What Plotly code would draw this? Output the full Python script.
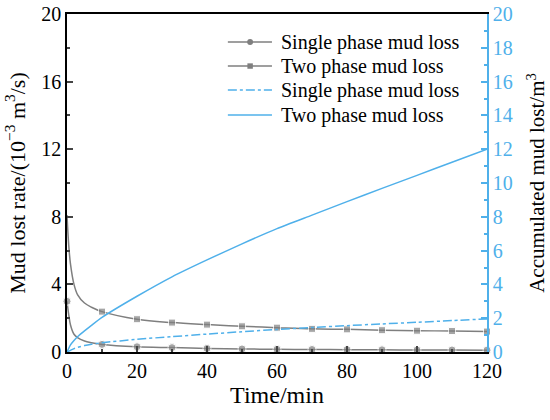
import plotly.graph_objects as go

# time axes (min)
t_rate = [0, 0.5, 1, 2, 3, 5, 7, 10, 20, 30, 40, 50, 60, 70, 80, 90, 100, 110, 120]
t_acc = [0, 1, 2, 3, 5, 7, 10, 20, 30, 40, 50, 60, 70, 80, 90, 100, 110, 120]

# mud lost rate (10^-3 m3/s)
single_rate = [3.0, 2.2, 1.6, 1.05, 0.85, 0.65, 0.55, 0.45, 0.31, 0.26, 0.21, 0.18,
               0.16, 0.15, 0.14, 0.13, 0.12, 0.12, 0.11]
two_rate = [8.1, 6.3, 5.2, 4.0, 3.4, 2.9, 2.65, 2.39, 1.94, 1.74, 1.62, 1.52,
            1.44, 1.37, 1.34, 1.29, 1.26, 1.24, 1.21]

# accumulated mud lost (m3)
single_acc = [0, 0.1, 0.2, 0.27, 0.38, 0.46, 0.55, 0.75, 0.91, 1.06, 1.2, 1.33,
              1.45, 1.56, 1.66, 1.76, 1.86, 1.96]
two_acc = [0, 0.42, 0.68, 0.9, 1.25, 1.58, 2.05, 3.3, 4.45, 5.45, 6.4, 7.3,
           8.1, 8.9, 9.68, 10.45, 11.23, 12.0]

legend_names = ["Single phase mud loss", "Two phase mud loss",
                "Single phase mud loss", "Two phase mud loss"]

grey = "#7f7f7f"
blue = "#4fb0ea"
font = "Liberation Serif"

# markers only every 10 min
circ_size = [8 if (t % 10 == 0) else 0 for t in t_rate]
sq_size = [7 if (t % 10 == 0 and t > 0) else 0 for t in t_rate]

fig = go.Figure()
fig.add_trace(go.Scatter(x=t_rate, y=single_rate, name=legend_names[0],
                         mode="lines+markers", line=dict(color=grey, width=1.5, shape="spline"),
                         marker=dict(symbol="circle", size=circ_size, color=grey),
                         cliponaxis=False))
fig.add_trace(go.Scatter(x=t_rate, y=two_rate, name=legend_names[1],
                         mode="lines+markers", line=dict(color=grey, width=1.5, shape="spline"),
                         marker=dict(symbol="square", size=sq_size, color=grey),
                         cliponaxis=False))
fig.add_trace(go.Scatter(x=t_acc, y=single_acc, name=legend_names[2], yaxis="y2",
                         mode="lines", line=dict(color=blue, width=1.5, dash="dashdot", shape="spline",
                                                 smoothing=0.6)))
fig.add_trace(go.Scatter(x=t_acc, y=two_acc, name=legend_names[3], yaxis="y2",
                         mode="lines", line=dict(color=blue, width=1.5, shape="spline",
                                                 smoothing=0.6)))

# hand-made legend (tighter row spacing than plotly's own)
rows_y = [0.917, 0.846, 0.775, 0.701]
styles = [(grey, "solid", "circle"), (grey, "solid", "square"),
          (blue, "dashdot", None), (blue, "solid", None)]
x0, x1, xm, xt = 0.383, 0.488, 0.436, 0.505
for name, ry, (col, dash, sym) in zip(legend_names, rows_y, styles):
    fig.add_shape(type="line", xref="paper", yref="paper", x0=x0, x1=x1, y0=ry, y1=ry,
                  line=dict(color=col, width=1.5, dash=dash))
    if sym == "circle":
        fig.add_shape(type="circle", xref="paper", yref="paper",
                      x0=xm - 0.007, x1=xm + 0.007, y0=ry - 0.009, y1=ry + 0.009,
                      fillcolor=col, line=dict(width=0))
    elif sym == "square":
        fig.add_shape(type="rect", xref="paper", yref="paper",
                      x0=xm - 0.0065, x1=xm + 0.0065, y0=ry - 0.008, y1=ry + 0.008,
                      fillcolor=col, line=dict(width=0))
    fig.add_annotation(x=xt, y=ry, xref="paper", yref="paper", text=name,
                       showarrow=False, xanchor="left", yanchor="middle",
                       font=dict(size=20, color="black"))

fig.update_layout(
    width=550, height=420,
    margin=dict(l=67, r=63, t=14, b=68),
    plot_bgcolor="white", paper_bgcolor="white",
    font=dict(family=font, size=20, color="black"),
    showlegend=False,
    xaxis=dict(range=[0, 120], dtick=20, ticks="inside", ticklen=6, tickwidth=1.5,
               showline=True, linecolor="black", linewidth=1.5, mirror=True,
               showgrid=False, zeroline=False, automargin=False,
               minor=dict(dtick=10, ticks="inside", ticklen=3, tickwidth=1.5),
               title=dict(text="Time/min", font=dict(size=24), standoff=2)),
    yaxis=dict(range=[0, 20], dtick=4, ticks="inside", ticklen=6, tickwidth=1.5,
               showline=True, linecolor="black", linewidth=1.5,
               showgrid=False, zeroline=False, automargin=False,
               minor=dict(dtick=2, ticks="inside", ticklen=3, tickwidth=1.5),
               title=dict(text="Mud lost rate/(10<sup>\u22123</sup> m<sup>3</sup>/s)",
                          font=dict(size=22), standoff=10)),
    yaxis2=dict(range=[0, 20], dtick=2, overlaying="y", side="right",
                ticks="inside", ticklen=6, tickwidth=1.5, tickcolor=blue,
                showline=True, linecolor=blue, linewidth=1.5,
                showgrid=False, zeroline=False, automargin=False,
                tickfont=dict(color=blue),
                minor=dict(dtick=1, ticks="inside", ticklen=3, tickwidth=1.5, tickcolor=blue),
                title=dict(text="Accumulated mud lost/m<sup>3</sup>",
                           font=dict(size=21, color="black"), standoff=18)),
)

fig.write_html("out.html", config={"displayModeBar": False},
               post_script="document.body.style.margin='0';")
